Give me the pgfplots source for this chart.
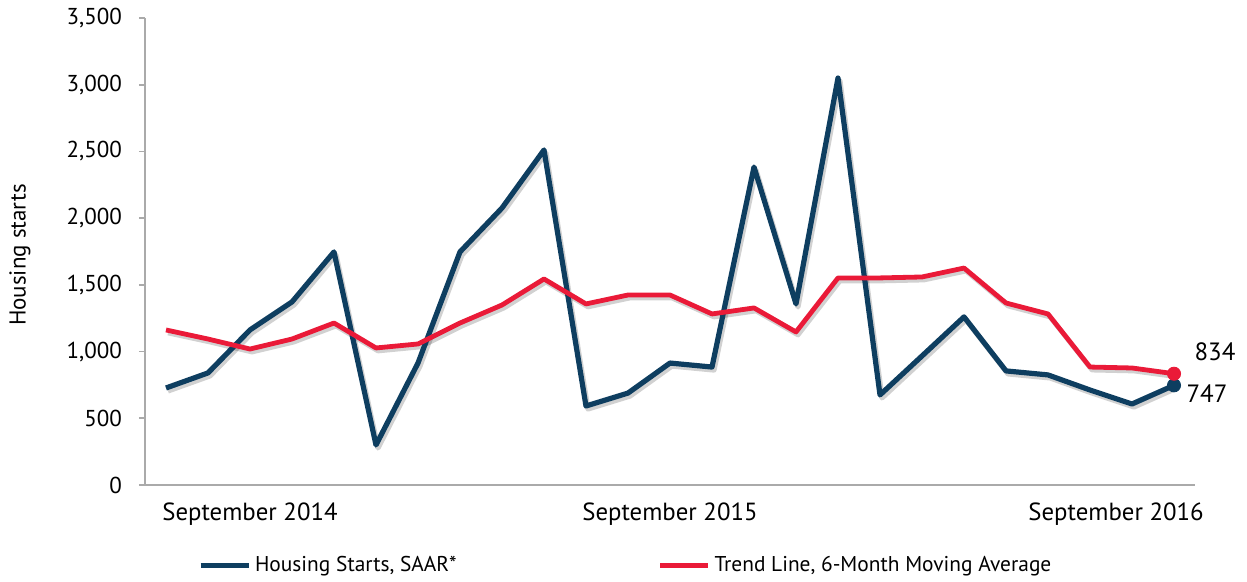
\documentclass[border=0pt]{standalone}
\usepackage{fontspec}
\setmainfont{PT Sans}
\usepackage{pgfplots}
\pgfplotsset{compat=1.18}
\definecolor{navy}{RGB}{14,62,96}
\definecolor{trendred}{RGB}{234,26,56}
\definecolor{axisgrey}{RGB}{170,170,170}
\begin{document}
\begin{tikzpicture}[x=1pt,y=1pt]
\path[use as bounding box] (-72.5,-48.5) rectangle (551,242.5);
\begin{axis}[
  at={(0,0)}, anchor=south west,
  scale only axis, width=525pt, height=233.5pt,
  xmin=-0.5, xmax=24.5, ymin=0, ymax=3500,
  axis x line*=bottom, axis y line*=left,
  axis line style={axisgrey, line width=0.8pt},
  ytick={0,500,...,3500},
  xtick={2,12,22.62},
  xticklabels={September 2014, September 2015, September 2016},
  x tick style={draw=none},
  y tick style={axisgrey, line width=0.8pt},
  tick align=outside, major tick length=3pt,
  yticklabel style={font=\fontsize{11.5}{13}\selectfont, xshift=-5pt},
  xticklabel style={font=\fontsize{12.4}{14}\selectfont, yshift=-2.5pt},
  /pgf/number format/assume math mode=true,
  /pgf/number format/1000 sep={,},
  scaled y ticks=false,
  ylabel={Housing starts},
  ylabel style={at={(axis description cs:-0.119,0.4925)}, anchor=center, font=\fontsize{11.5}{13}\selectfont},
  legend style={at={(axis description cs:0.05,-0.173)}, anchor=west, draw=none, fill=none,
    font=\fontsize{10.7}{12}\selectfont, inner xsep=0pt},
  legend columns=2,
  /tikz/every even column/.append style={column sep=98.5pt},
  legend image code/.code={\draw[#1] (0pt,0pt) -- (24pt,0pt);},
  clip=false,
]
% shadows
\addplot[black, opacity=0.18, line width=2.6pt, line join=round, xshift=1pt, yshift=-1.5pt, forget plot] coordinates {
(0,727)(1,840)(2,1162)(3,1372)(4,1747)(5,300)(6,914)(7,1747)(8,2076)(9,2511)(10,592)(11,689)(12,914)(13,884)(14,2383)(15,1357)(16,3050)(17,675)(18,967)(19,1260)(20,855)(21,825)(22,712)(23,607)(24,747)};
\addplot[black, opacity=0.18, line width=2.4pt, line join=round, xshift=1pt, yshift=-1.5pt, forget plot] coordinates {
(0,1162)(1,1094)(2,1019)(3,1094)(4,1214)(5,1027)(6,1057)(7,1214)(8,1349)(9,1544)(10,1357)(11,1424)(12,1424)(13,1282)(14,1327)(15,1147)(16,1552)(17,1552)(18,1559)(19,1626)(20,1364)(21,1282)(22,884)(23,877)(24,834)};
\addplot[navy, line width=2.6pt, line join=round] coordinates {
(0,727)(1,840)(2,1162)(3,1372)(4,1747)(5,300)(6,914)(7,1747)(8,2076)(9,2511)(10,592)(11,689)(12,914)(13,884)(14,2383)(15,1357)(16,3050)(17,675)(18,967)(19,1260)(20,855)(21,825)(22,712)(23,607)(24,747)};
\addlegendentry{Housing Starts, SAAR*}
\addplot[trendred, line width=2.4pt, line join=round] coordinates {
(0,1162)(1,1094)(2,1019)(3,1094)(4,1214)(5,1027)(6,1057)(7,1214)(8,1349)(9,1544)(10,1357)(11,1424)(12,1424)(13,1282)(14,1327)(15,1147)(16,1552)(17,1552)(18,1559)(19,1626)(20,1364)(21,1282)(22,884)(23,877)(24,834)};
\addlegendentry{Trend Line, 6-Month Moving Average}
\addplot[only marks, mark=*, mark size=3.3pt, navy, forget plot,
  point meta=explicit symbolic, nodes near coords,
  every node near coord/.style={anchor=center, xshift=16.5pt, yshift=-4pt, text=black, font=\fontsize{12.5}{14}\selectfont}]
  coordinates {(24,747) [747]};
\addplot[only marks, mark=*, mark size=3.3pt, trendred, forget plot,
  point meta=explicit symbolic, nodes near coords,
  every node near coord/.style={anchor=center, xshift=20.5pt, yshift=11pt, text=black, font=\fontsize{12.5}{14}\selectfont}]
  coordinates {(24,834) [834]};
\end{axis}
\end{tikzpicture}
\end{document}
